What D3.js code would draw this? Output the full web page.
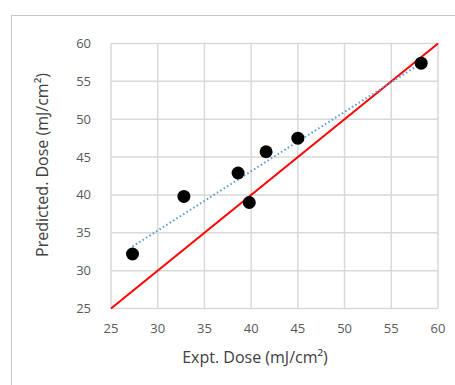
<!DOCTYPE html>
<html><head><meta charset="utf-8">
<script src="https://cdn.jsdelivr.net/npm/d3@7"></script>
<style>body{margin:0;background:#fff}svg{display:block}</style>
</head><body>
<script>
const exptDose = [27.3, 32.8, 38.6, 39.8, 41.6, 45.0, 58.2];
const predDose = [32.2, 39.8, 42.9, 39.0, 45.7, 47.5, 57.4];
const xTicks = [25, 30, 35, 40, 45, 50, 55, 60];
const yTicks = [25, 30, 35, 40, 45, 50, 55, 60];
const identityLine = [25, 60];

const W = 455, H = 385;
const svg = d3.select("body").append("svg").attr("width", W).attr("height", H);
const font = "'Open Sans', sans-serif";

// outer frame
svg.append("rect").attr("x", 11.5).attr("y", 15.5).attr("width", 460).attr("height", 400)
  .attr("fill", "#fff").attr("stroke", "#c8c8c8").attr("stroke-width", 1);

const x = d3.scaleLinear().domain([25, 60]).range([111, 438]);
const y = d3.scaleLinear().domain([25, 60]).range([308.5, 43.5]);

const g = svg.append("g");
// gridlines
g.selectAll(".vx").data(xTicks).join("line")
  .attr("x1", d => x(d)).attr("x2", d => x(d)).attr("y1", y(25)).attr("y2", y(60))
  .attr("stroke", "#d9d9d9").attr("stroke-width", 1.5);
g.selectAll(".hy").data(yTicks).join("line")
  .attr("y1", d => y(d)).attr("y2", d => y(d)).attr("x1", x(25)).attr("x2", x(60))
  .attr("stroke", "#d9d9d9").attr("stroke-width", 1.5);

// tick labels
svg.selectAll(".xl").data(xTicks).join("text")
  .attr("x", d => x(d)).attr("y", 333).attr("text-anchor", "middle")
  .attr("font-family", font).attr("font-size", 13).attr("fill", "#595959").text(d => d);
svg.selectAll(".yl").data(yTicks).join("text")
  .attr("x", 91).attr("y", d => y(d) + 4.5).attr("text-anchor", "end")
  .attr("font-family", font).attr("font-size", 13).attr("fill", "#595959").text(d => d);

// identity line
svg.append("line")
  .attr("x1", x(identityLine[0])).attr("y1", y(identityLine[0]))
  .attr("x2", x(identityLine[1])).attr("y2", y(identityLine[1]))
  .attr("stroke", "#ff0000").attr("stroke-width", 2);

// linear trendline
const mx = d3.mean(exptDose), my = d3.mean(predDose);
let sxy = 0, sxx = 0;
exptDose.forEach((v, i) => { sxy += (v - mx) * (predDose[i] - my); sxx += (v - mx) * (v - mx); });
const slope = sxy / sxx, icpt = my - slope * mx;
const x0 = d3.min(exptDose), x1 = d3.max(exptDose);
svg.append("line")
  .attr("x1", x(x0)).attr("y1", y(icpt + slope * x0))
  .attr("x2", x(x1)).attr("y2", y(icpt + slope * x1))
  .attr("stroke", "#5b9bd5").attr("stroke-width", 2).attr("stroke-dasharray", "1.5,2.5");

// points
svg.selectAll(".pt").data(exptDose).join("circle")
  .attr("cx", d => x(d)).attr("cy", (d, i) => y(predDose[i])).attr("r", 6.5).attr("fill", "#000");

// axis titles
svg.append("text").attr("x", 255).attr("y", 363).attr("text-anchor", "middle")
  .attr("font-family", font).attr("font-size", 16).attr("fill", "#404040").text("Expt. Dose (mJ/cm²)");
svg.append("text").attr("transform", "translate(48,165) rotate(-90)").attr("text-anchor", "middle")
  .attr("font-family", font).attr("font-size", 16).attr("fill", "#404040").text("Predicted. Dose (mJ/cm²)");
</script>
</body></html>
